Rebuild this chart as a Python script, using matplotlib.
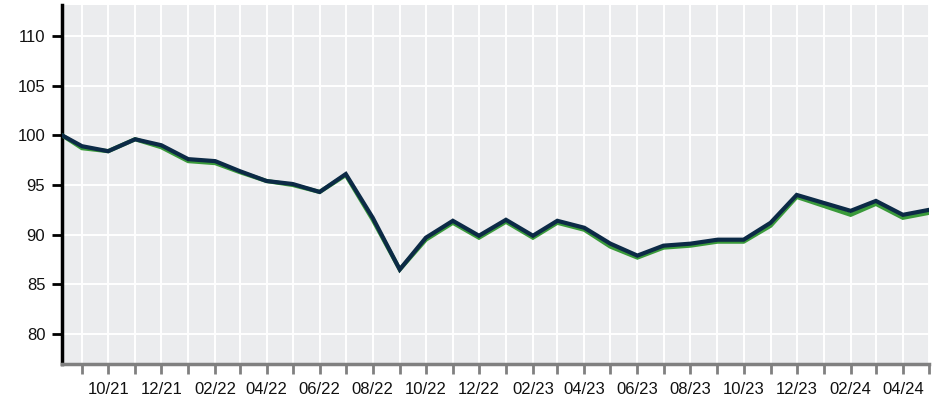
import matplotlib
matplotlib.use("Agg")
import matplotlib.pyplot as plt
import matplotlib.dates as mdates
import pandas as pd

plt.rcParams["font.family"] = ["Liberation Sans", "DejaVu Sans"]

# Data
start_date = "2021-08-09"
month_dates = pd.date_range("2021-09-01", "2024-05-01", freq="MS")
dates = [pd.Timestamp(start_date)] + list(month_dates)

series_navy = [100.0, 98.9, 98.4, 99.6, 99.0, 97.6, 97.4, 96.4, 95.4, 95.1,
               94.3, 96.1, 91.7, 86.5, 89.7, 91.4, 89.9, 91.5, 89.9, 91.4,
               90.7, 89.1, 87.9, 88.9, 89.1, 89.5, 89.5, 91.2, 94.0, 93.2,
               92.4, 93.4, 92.0, 92.5]
series_green = [100.0, 98.7, 98.4, 99.6, 98.8, 97.4, 97.2, 96.3, 95.4, 95.0,
                94.3, 96.0, 91.5, 86.5, 89.5, 91.2, 89.7, 91.3, 89.7, 91.2,
                90.5, 88.8, 87.7, 88.7, 88.9, 89.3, 89.3, 90.9, 93.8, 92.9,
                92.0, 93.1, 91.7, 92.2]
y_ticks = [80, 85, 90, 95, 100, 105, 110]

fig = plt.figure(figsize=(9.35, 4.03), dpi=100)
ax = fig.add_axes([62/935, 39/403, (929-62)/935, (364-5)/403])
ax.set_facecolor("#EBECEE")

ax.plot(dates, series_green, color="#3A9A3A", linewidth=3.0, solid_joinstyle="miter", zorder=3)
ax.plot(dates, series_navy, color="#0C2A46", linewidth=3.0, solid_joinstyle="miter", zorder=4)

ax.set_ylim(77.0, 113.1)
ax.set_xlim(pd.Timestamp(start_date), pd.Timestamp("2024-05-01"))
ax.set_yticks(y_ticks)
ax.set_yticklabels([str(v) for v in y_ticks])

ax.xaxis.set_major_locator(mdates.MonthLocator(bymonth=[2, 4, 6, 8, 10, 12]))
ax.xaxis.set_major_formatter(mdates.DateFormatter("%m/%y"))
ax.xaxis.set_minor_locator(mdates.MonthLocator(bymonth=[1, 3, 5, 7, 9, 11]))

ax.grid(True, which="both", axis="x", color="white", linewidth=1.4)
ax.grid(True, which="major", axis="y", color="white", linewidth=1.4)
ax.set_axisbelow(True)

for s in ["top", "right"]:
    ax.spines[s].set_visible(False)
ax.spines["left"].set_color("black")
ax.spines["left"].set_linewidth(2.5)
ax.spines["bottom"].set_color("#808080")
ax.spines["bottom"].set_linewidth(2.5)

ax.tick_params(axis="y", which="major", length=7, width=2, color="black",
               labelsize=12, labelcolor="#111111", pad=5)
ax.tick_params(axis="x", which="both", length=7, width=2, color="#808080",
               labelsize=12, labelcolor="#111111", pad=6)

fig.savefig("out.png", dpi=100)
